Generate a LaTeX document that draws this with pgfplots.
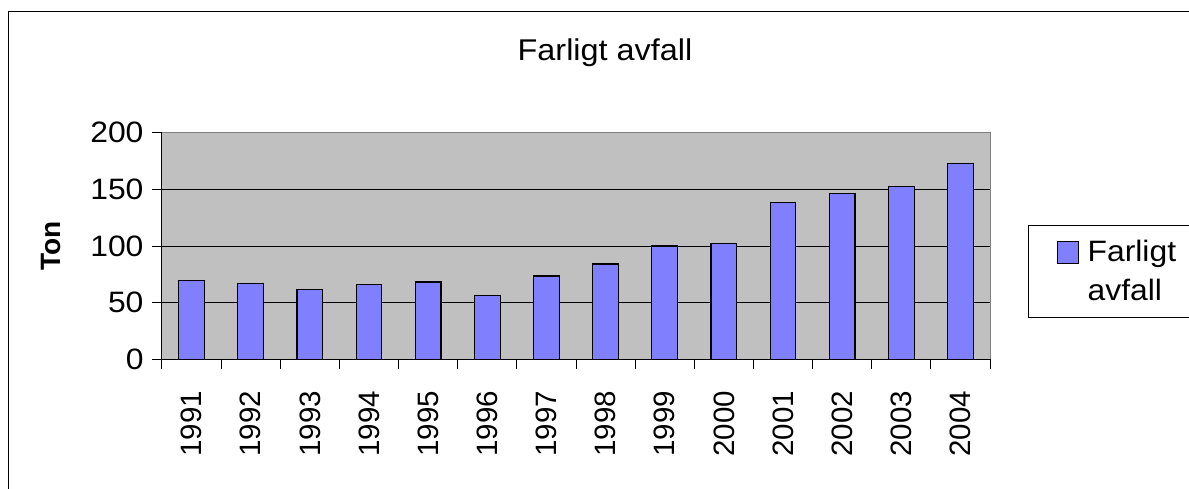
\documentclass[border=0pt]{standalone}
\usepackage{fontspec}
\setmainfont{Liberation Sans}[FakeStretch=1.08]
\newfontfamily\rotfont{Liberation Sans}
\usepackage{pgfplots}
\pgfplotsset{compat=1.18}
\definecolor{plotgray}{HTML}{C0C0C0}
\definecolor{barblue}{HTML}{8080FF}
\definecolor{edgegray}{HTML}{808080}
\begin{document}
\begin{tikzpicture}[x=1pt,y=1pt]
\useasboundingbox (0pt,0pt) rectangle (1189pt,-489pt);
\clip (0pt,0pt) rectangle (1189pt,-489pt);
\draw[black, line width=1pt] (8.5pt,-600pt) -- (8.5pt,-11.3pt) -- (1300pt,-11.3pt);
\node[font=\fontsize{30}{30}\selectfont, anchor=base, inner sep=0pt] at (605pt,-60.7pt) {Farligt avfall};
\begin{axis}[
  at={(162pt,-359.3pt)}, anchor=south west,
  width=828pt, height=226.6pt, scale only axis,
  xmin=-0.5, xmax=13.5, ymin=0, ymax=200,
  axis x line*=bottom, axis y line*=left,
  axis line style={black, line width=1pt, -},
  axis background/.style={fill=plotgray, draw=edgegray, line width=1pt},
  ytick={0,50,100,150}, extra y ticks={200}, extra y tick style={grid=none},
  ymajorgrids, grid style={black, line width=0.8pt},
  tick align=outside, major tick length=10pt,
  tick style={black, line width=1pt},
  xtick={-0.5,0.5,...,13.5}, x tick label as interval,
  xticklabels={1991,1992,1993,1994,1995,1996,1997,1998,1999,2000,2001,2002,2003,2004},
  xticklabel style={font=\rotfont\fontsize{29.5}{29.5}\selectfont, rotate=90, anchor=east},
  xticklabel shift=18pt,
  yticklabel style={font=\fontsize{29.5}{29.5}\selectfont},
  yticklabel shift=5pt,
  /pgf/number format/assume math mode=true,
  ylabel={Ton},
  ylabel style={font=\rotfont\bfseries\fontsize{28}{28}\selectfont, at={([xshift=-111pt]rel axis cs:0,0.5)}, anchor=center},
  legend style={at={(rel axis cs:1.0459,0.5927)}, anchor=north west, draw=black, line width=1pt, fill=white,
    inner xsep=28pt, inner ysep=13pt, font=\fontsize{29.5}{39}\selectfont, cells={align=left}},
  ybar, bar width=25.7pt, bar shift=0pt,
]
\addplot[fill=barblue, draw=black, line width=1.2pt,
  legend image code/.code={\draw[fill=barblue, draw=black, line width=1pt] (0pt,8pt) rectangle (21pt,30pt); \path (28pt,8pt);}] coordinates {
(0,69.4) (1,67.1) (2,61.5) (3,65.9) (4,68.2) (5,56.5) (6,73.5)
(7,84.1) (8,100) (9,102.4) (10,138.2) (11,146.2) (12,152.6) (13,172.6)};
\addlegendentry{Farligt\hspace*{40pt}\\avfall}
\end{axis}
\end{tikzpicture}
\end{document}
